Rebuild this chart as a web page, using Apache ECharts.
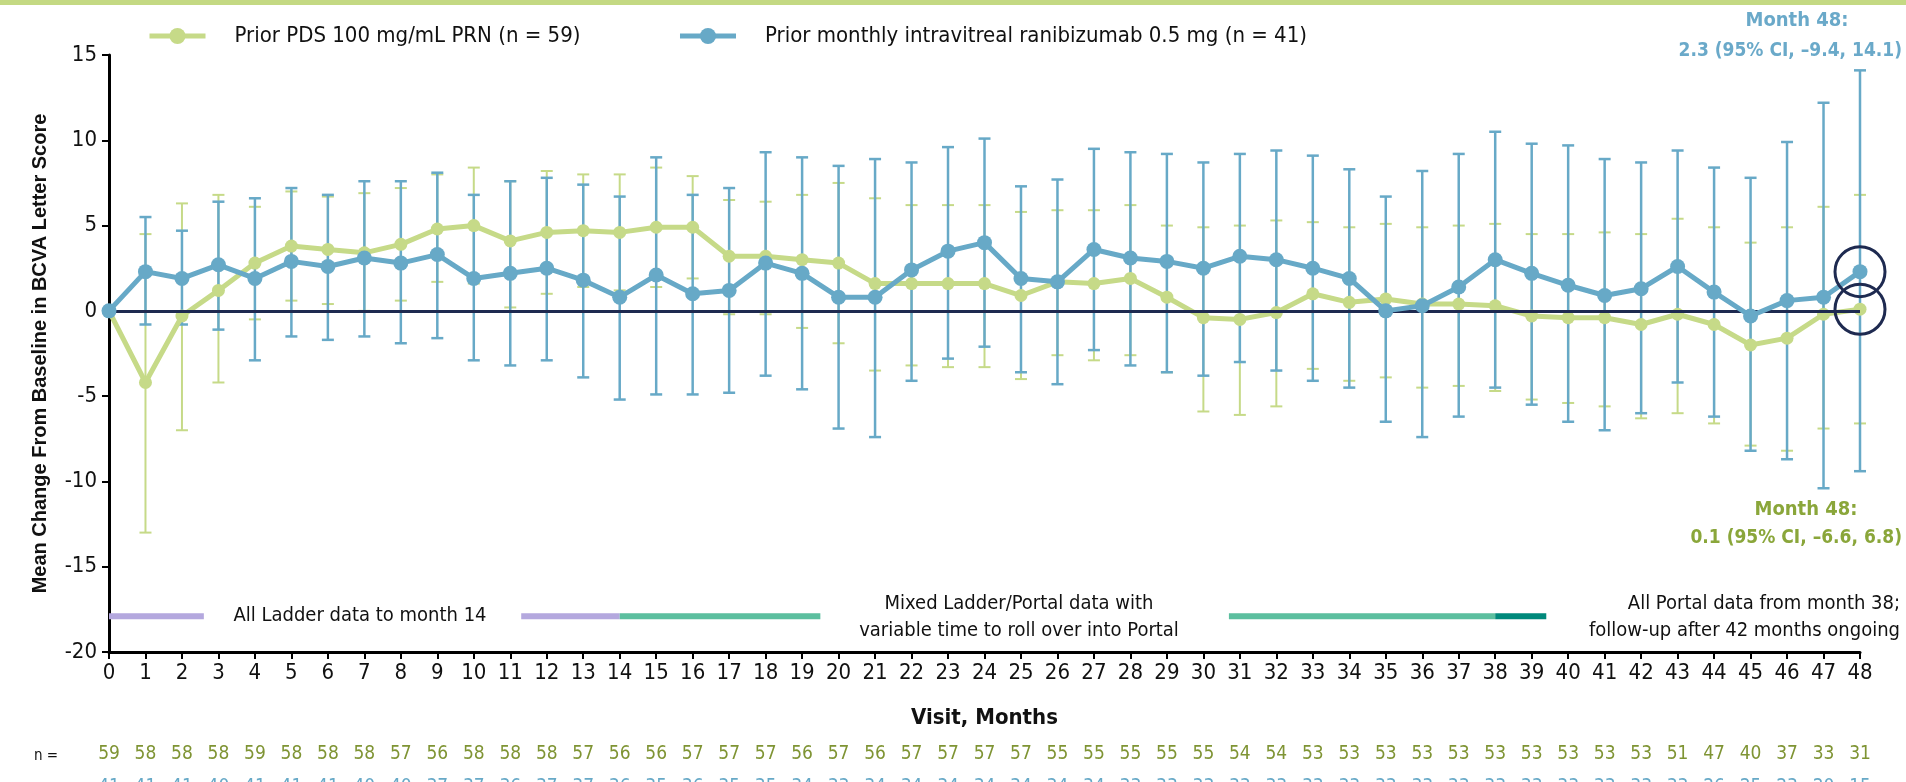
<!DOCTYPE html>
<html>
<head>
<meta charset="utf-8">
<script src="https://cdn.jsdelivr.net/npm/echarts@6/dist/echarts.min.js"></script>
<style>
  html, body { margin: 0; padding: 0; background: #fff; }
  #chart { width: 1906px; height: 782px; }
</style>
</head>
<body>
<div id="chart"></div>
<script>
const chart = echarts.init(document.getElementById('chart'));

const NARROW = "'Liberation Sans Narrow', 'Arial Narrow', 'DejaVu Sans Condensed', sans-serif";
const WIDE = "'Liberation Sans', Arial, sans-serif";

const GREEN = '#c6da88';
const BLUE = '#67a9c7';
const OLIVE = '#7f9434';
const NAVY = '#1e2a50';

const months = Array.from({ length: 49 }, (_, i) => i);

// Prior PDS 100 mg/mL PRN
const pdsMean = [0, -4.2, -0.3, 1.2, 2.8, 3.8, 3.6, 3.4, 3.9, 4.8, 5.0, 4.1, 4.6, 4.7, 4.6, 4.9, 4.9,
  3.2, 3.2, 3.0, 2.8, 1.6, 1.6, 1.6, 1.6, 0.9, 1.7, 1.6, 1.9, 0.8, -0.4, -0.5, -0.1,
  1.0, 0.5, 0.7, 0.4, 0.4, 0.3, -0.3, -0.4, -0.4, -0.8, -0.2, -0.8, -2.0, -1.6, -0.2, 0.1];
const pdsLow = [null, -13.0, -7.0, -4.2, -0.5, 0.6, 0.4, 0.0, 0.6, 1.7, 1.6, 0.2, 1.0, 1.4, 1.2, 1.4, 1.9,
  -0.2, -0.2, -1.0, -1.9, -3.5, -3.2, -3.3, -3.3, -4.0, -2.6, -2.9, -2.6, -3.6, -5.9, -6.1, -5.6,
  -3.4, -4.1, -3.9, -4.5, -4.4, -4.7, -5.2, -5.4, -5.6, -6.3, -6.0, -6.6, -7.9, -8.2, -6.9, -6.6];
const pdsHigh = [null, 4.5, 6.3, 6.8, 6.1, 7.0, 6.7, 6.9, 7.2, 8.0, 8.4, 7.6, 8.2, 8.0, 8.0, 8.4, 7.9,
  6.5, 6.4, 6.8, 7.5, 6.6, 6.2, 6.2, 6.2, 5.8, 5.9, 5.9, 6.2, 5.0, 4.9, 5.0, 5.3,
  5.2, 4.9, 5.1, 4.9, 5.0, 5.1, 4.5, 4.5, 4.6, 4.5, 5.4, 4.9, 4.0, 4.9, 6.1, 6.8];

// Prior monthly intravitreal ranibizumab 0.5 mg
const rbzMean = [0, 2.3, 1.9, 2.7, 1.9, 2.9, 2.6, 3.1, 2.8, 3.3, 1.9, 2.2, 2.5, 1.8, 0.8, 2.1, 1.0,
  1.2, 2.8, 2.2, 0.8, 0.8, 2.4, 3.5, 4.0, 1.9, 1.7, 3.6, 3.1, 2.9, 2.5, 3.2, 3.0,
  2.5, 1.9, 0.0, 0.3, 1.4, 3.0, 2.2, 1.5, 0.9, 1.3, 2.6, 1.1, -0.3, 0.6, 0.8, 2.3];
const rbzLow = [null, -0.8, -0.8, -1.1, -2.9, -1.5, -1.7, -1.5, -1.9, -1.6, -2.9, -3.2, -2.9, -3.9, -5.2, -4.9, -4.9,
  -4.8, -3.8, -4.6, -6.9, -7.4, -4.1, -2.8, -2.1, -3.6, -4.3, -2.3, -3.2, -3.6, -3.8, -3.0, -3.5,
  -4.1, -4.5, -6.5, -7.4, -6.2, -4.5, -5.5, -6.5, -7.0, -6.0, -4.2, -6.2, -8.2, -8.7, -10.4, -9.4];
const rbzHigh = [null, 5.5, 4.7, 6.4, 6.6, 7.2, 6.8, 7.6, 7.6, 8.1, 6.8, 7.6, 7.8, 7.4, 6.7, 9.0, 6.8,
  7.2, 9.3, 9.0, 8.5, 8.9, 8.7, 9.6, 10.1, 7.3, 7.7, 9.5, 9.3, 9.2, 8.7, 9.2, 9.4,
  9.1, 8.3, 6.7, 8.2, 9.2, 10.5, 9.8, 9.7, 8.9, 8.7, 9.4, 8.4, 7.8, 9.9, 12.2, 14.1];

// patients at each visit
const nPds = [59, 58, 58, 58, 59, 58, 58, 58, 57, 56, 58, 58, 58, 57, 56, 56, 57, 57, 57, 56,
  57, 56, 57, 57, 57, 57, 55, 55, 55, 55, 55, 54, 54, 53, 53, 53, 53, 53, 53, 53,
  53, 53, 53, 51, 47, 40, 37, 33, 31];
const nRbz = [41, 41, 41, 40, 41, 41, 41, 40, 40, 37, 37, 36, 37, 37, 36, 35, 36, 35, 35, 34,
  33, 34, 34, 34, 34, 34, 34, 34, 33, 33, 33, 33, 33, 33, 33, 33, 33, 33, 33, 33,
  33, 33, 33, 33, 26, 25, 23, 20, 15];

// data-source periods shown along the bottom [start month, end month]
const bandY = -17.9;
const ladderPeriods = [[0, 2.6], [11.3, 14.0]];
const mixedPeriods = [[14.0, 19.5], [30.7, 38.0]];
const portalPeriods = [[38.0, 39.4]];

const seriesNames = ['Prior PDS 100 mg/mL PRN (n = 59)', 'Prior monthly intravitreal ranibizumab 0.5 mg (n = 41)'];

const pair = (a) => months.map((m) => [m, a[m]]);
const ciData = (lo, hi) => months.filter((m) => lo[m] != null).map((m) => [m, lo[m], hi[m]]);

function errorBars(color, width) {
  return (params, api) => {
    const x = api.value(0);
    const lo = api.coord([x, api.value(1)]);
    const hi = api.coord([x, api.value(2)]);
    const cap = 6;
    const style = { stroke: color, lineWidth: width };
    return {
      type: 'group',
      children: [
        { type: 'line', shape: { x1: lo[0], y1: lo[1], x2: hi[0], y2: hi[1] }, style },
        { type: 'line', shape: { x1: lo[0] - cap, y1: lo[1], x2: lo[0] + cap, y2: lo[1] }, style },
        { type: 'line', shape: { x1: hi[0] - cap, y1: hi[1], x2: hi[0] + cap, y2: hi[1] }, style }
      ]
    };
  };
}

function periodSeries(periods, color) {
  const data = [];
  periods.forEach(([a, b]) => { data.push([a, bandY], [b, bandY], [null, null]); });
  return {
    type: 'line', data, symbol: 'none', silent: true, connectNulls: false,
    lineStyle: { color, width: 6, cap: 'butt' }, z: 1
  };
}

const nAxis = (values, color, offset) => ({
  type: 'value', min: 0, max: 48, interval: 1, position: 'bottom', offset,
  axisLine: { show: false }, axisTick: { show: false }, splitLine: { show: false },
  axisLabel: { color, fontFamily: NARROW, fontSize: 19, margin: 0, formatter: (v) => values[v] }
});

const last = months.length - 1;

chart.setOption({
  animation: false,
  grid: { left: 109, right: 46, top: 55, bottom: 130, outerBoundsMode: 'none', containLabel: false },
  legend: {
    data: seriesNames,
    left: 142, top: 20, itemWidth: 56, itemHeight: 20, itemGap: 97,
    lineStyle: { width: 5 },
    textStyle: { fontFamily: NARROW, fontSize: 22, color: '#111', padding: [0, 0, 0, 24] }
  },
  xAxis: [
    {
      type: 'value', min: 0, max: 48, interval: 1,
      name: 'Visit, Months', nameLocation: 'middle', nameGap: 55,
      nameTextStyle: { fontFamily: NARROW, fontWeight: 'bold', fontSize: 22, color: '#111' },
      axisLine: { onZero: false, lineStyle: { color: '#000', width: 3 } },
      axisTick: { length: 7, lineStyle: { color: '#000', width: 2 } },
      axisLabel: { color: '#111', fontFamily: NARROW, fontSize: 22, margin: 10 },
      splitLine: { show: false }
    },
    nAxis(nPds, OLIVE, 93),
    nAxis(nRbz, BLUE, 126)
  ],
  yAxis: {
    type: 'value', min: -20, max: 15, interval: 5,
    name: 'Mean Change From Baseline in BCVA Letter Score', nameLocation: 'middle', nameGap: 59,
    nameTextStyle: { fontFamily: WIDE, fontWeight: 'bold', fontSize: 20, color: '#111' },
    axisLine: { show: true, lineStyle: { color: '#000', width: 3 } },
    axisTick: { show: true, length: 7, lineStyle: { color: '#000', width: 2 } },
    axisLabel: { color: '#111', fontFamily: NARROW, fontSize: 22, margin: 12 },
    splitLine: { show: false }
  },
  series: [
    periodSeries(ladderPeriods, '#b4a8de'),
    periodSeries(mixedPeriods, '#5cbf9f'),
    periodSeries(portalPeriods, '#00897b'),
    {
      type: 'custom', renderItem: errorBars(GREEN, 2), data: ciData(pdsLow, pdsHigh),
      encode: { x: 0, y: [1, 2] }, z: 2, silent: true
    },
    {
      type: 'custom', renderItem: errorBars(BLUE, 2.5), data: ciData(rbzLow, rbzHigh),
      encode: { x: 0, y: [1, 2] }, z: 3, silent: true
    },
    {
      name: seriesNames[0], type: 'line', data: pair(pdsMean),
      symbol: 'circle', symbolSize: 13, z: 4,
      lineStyle: { color: GREEN, width: 5 }, itemStyle: { color: GREEN },
      markLine: {
        silent: true, symbol: 'none', label: { show: false },
        lineStyle: { color: NAVY, width: 3, type: 'solid' },
        data: [{ yAxis: 0 }]
      }
    },
    {
      name: seriesNames[1], type: 'line', data: pair(rbzMean),
      symbol: 'circle', symbolSize: 15, z: 5,
      lineStyle: { color: BLUE, width: 5 }, itemStyle: { color: BLUE }
    },
    {
      type: 'scatter', silent: true, z: 6,
      symbol: 'circle', symbolSize: 50,
      itemStyle: { color: 'rgba(0,0,0,0)', borderColor: NAVY, borderWidth: 3, opacity: 1 },
      data: [[last, rbzMean[last]], [last, pdsMean[last]]]
    }
  ],
  graphic: [
    { type: 'rect', left: 0, top: 0, shape: { width: 1906, height: 5 }, style: { fill: '#c4d983' } },
    {
      type: 'text', x: 360, y: 616,
      style: { text: 'All Ladder data to month 14', font: `20px ${NARROW}`, fill: '#111', align: 'center', verticalAlign: 'middle' }
    },
    {
      type: 'text', x: 1019, y: 617,
      style: { text: 'Mixed Ladder/Portal data with\nvariable time to roll over into Portal', font: `20px ${NARROW}`, lineHeight: 27, fill: '#111', align: 'center', verticalAlign: 'middle' }
    },
    {
      type: 'text', x: 1900, y: 617,
      style: { text: 'All Portal data from month 38;\nfollow-up after 42 months ongoing', font: `20px ${NARROW}`, lineHeight: 27, fill: '#111', align: 'right', verticalAlign: 'middle' }
    },
    {
      type: 'text', x: 1797, y: 21,
      style: { text: 'Month 48:', font: `bold 20px ${NARROW}`, fill: '#6aa9c9', align: 'center', verticalAlign: 'middle' }
    },
    {
      type: 'text', x: 1902, y: 51,
      style: { text: '2.3 (95% CI, \u20139.4, 14.1)', font: `bold 19px ${NARROW}`, fill: '#6aa9c9', align: 'right', verticalAlign: 'middle' }
    },
    {
      type: 'text', x: 1806, y: 510,
      style: { text: 'Month 48:', font: `bold 20px ${NARROW}`, fill: '#8aa63a', align: 'center', verticalAlign: 'middle' }
    },
    {
      type: 'text', x: 1902, y: 538,
      style: { text: '0.1 (95% CI, \u20136.6, 6.8)', font: `bold 19px ${NARROW}`, fill: '#8aa63a', align: 'right', verticalAlign: 'middle' }
    },
    {
      type: 'text', x: 46, y: 756,
      style: { text: 'n =', font: `15px ${NARROW}`, fill: '#111', align: 'center', verticalAlign: 'middle' }
    }
  ]
});
</script>
</body>
</html>
